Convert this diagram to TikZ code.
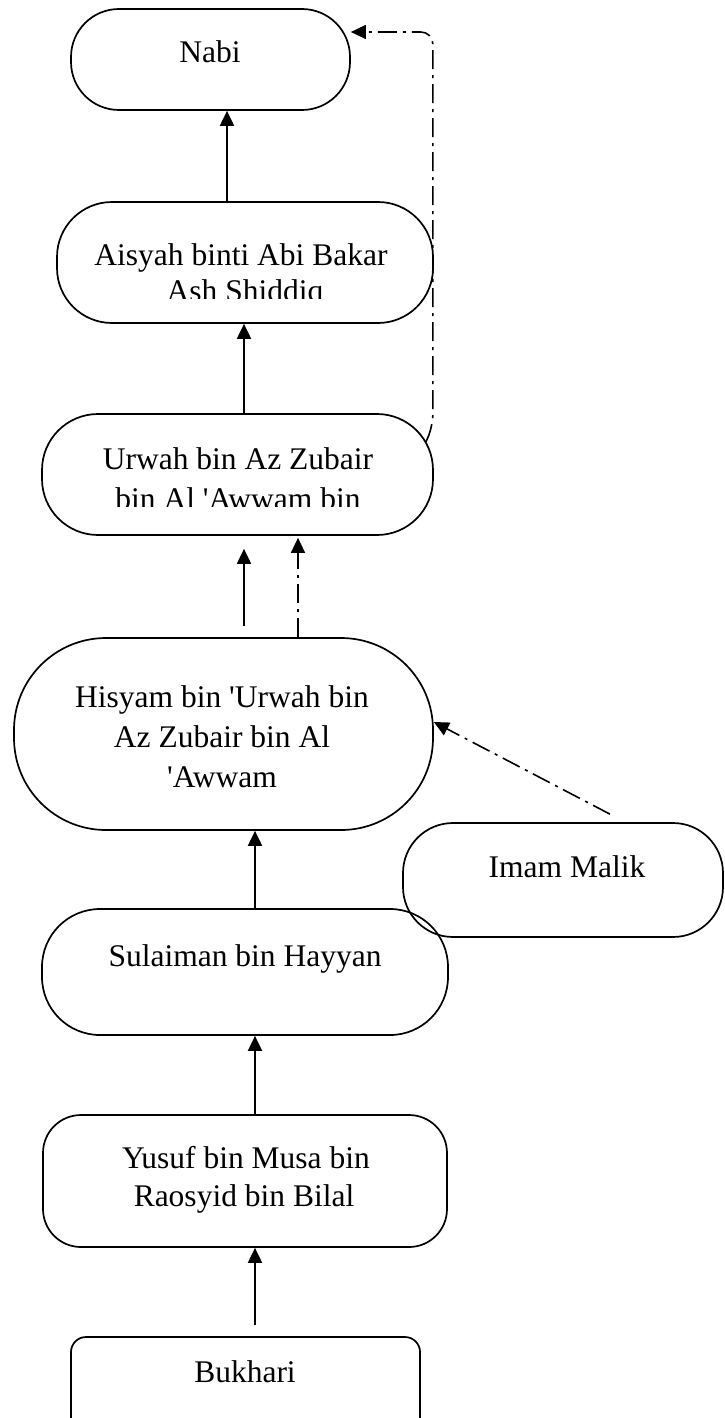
\documentclass[tikz,border=0pt]{standalone}
\usepackage{fontspec}
\setmainfont{Liberation Serif}
\usetikzlibrary{arrows.meta}
\begin{document}
\begin{tikzpicture}[x=1pt,y=-1pt,
  box/.style={draw, line width=1.7pt, rectangle, inner sep=0pt},
  txt/.style={font=\fontsize{31.5}{38}\selectfont, anchor=base, inner sep=0pt},
  arr/.style={line width=1.9pt, -{Triangle[length=15pt,width=14pt]}},
  dd/.style={line width=1.6pt, dash pattern=on 19pt off 6pt on 3pt off 6pt,
    -{Triangle[length=15pt,width=14pt]}}]
\clip (0,0) rectangle (724,1418);

% boxes of the chain
\node[box, minimum width=279pt, minimum height=101pt, rounded corners=48pt] (nabi) at (210.5,59.5) {};
\node[box, minimum width=376pt, minimum height=121pt, rounded corners=55pt] (aisyah) at (245,262.5) {};
\node[box, minimum width=391pt, minimum height=121pt, rounded corners=56pt] (urwah) at (237.5,474.5) {};
\node[box, minimum width=419pt, minimum height=192pt, rounded corners=92pt] (hisyam) at (223.5,734) {};
\node[box, minimum width=320pt, minimum height=114pt, rounded corners=50pt] (malik) at (563,880) {};
\node[box, minimum width=406pt, minimum height=126pt, rounded corners=58pt] (sulaiman) at (245,972) {};
\node[box, minimum width=404pt, minimum height=132pt, rounded corners=38pt] (yusuf) at (245,1181) {};
\node[box, minimum width=349pt, minimum height=120pt, rounded corners=15pt] (bukhari) at (245.5,1397) {};

% labels
\node[txt] (nabit) at (210,63) {Nabi};
\begin{scope}
  \clip (57,202) rectangle (433,298);
  \node[txt] (aisyaht1) at (241,265) {Aisyah binti Abi Bakar};
  \node[txt] (aisyaht2) at (245,301) {Ash Shiddiq};
\end{scope}
\begin{scope}
  \clip (42,414) rectangle (433,506);
  \node[txt] (urwaht1) at (238,469) {Urwah bin Az Zubair};
  \node[txt] (urwaht2) at (238,509) {bin Al \textquotesingle Awwam bin};
\end{scope}
\node[txt] (hisyamt1) at (222,707) {Hisyam bin \textquotesingle Urwah bin};
\node[txt] (hisyamt2) at (222,747) {Az Zubair bin Al};
\node[txt] (hisyamt3) at (222,787) {\textquotesingle Awwam};
\node[txt] (malikt) at (567,877) {Imam Malik};
\node[txt] (sulaimant) at (245,966) {Sulaiman bin Hayyan};
\node[txt] (yusuft1) at (246,1168) {Yusuf bin Musa bin};
\node[txt] (yusuft2) at (244,1206) {Raosyid bin Bilal};
\node[txt] (bukharit) at (245,1382) {Bukhari};

% solid links of the chain
\draw[arr] ([xshift=-18pt]aisyah.north) coordinate (a1) -- (a1 |- nabi.south);
\draw[arr] ([xshift=6.5pt]urwah.north) coordinate (a2) -- (a2 |- aisyah.south);
\draw[arr, shorten >=13pt] ([xshift=20.5pt,yshift=11pt]hisyam.north) coordinate (a3) -- (a3 |- urwah.south);
\draw[arr] ([xshift=10pt]sulaiman.north) coordinate (a4) -- (a4 |- hisyam.south);
\draw[arr] ([xshift=10pt]yusuf.north) coordinate (a5) -- (a5 |- sulaiman.south);
\draw[arr] ([xshift=9.5pt,yshift=11pt]bukhari.north) coordinate (a6) -- (a6 |- yusuf.south);

% dash-dot links
\draw[dd, shorten >=2pt] ([xshift=74.5pt]hisyam.north) coordinate (d1) -- (d1 |- urwah.south);
\draw[dd] ([xshift=47pt,yshift=8pt]malik.north) -- ([yshift=12pt]hisyam.east);
\coordinate (u1) at ([xshift=-8pt,yshift=-29pt]urwah.north east);
\draw[dd, rounded corners=12pt] (u1) -- ++(7,-16) |- ([yshift=27.5pt]nabi.east);
\end{tikzpicture}
\end{document}
